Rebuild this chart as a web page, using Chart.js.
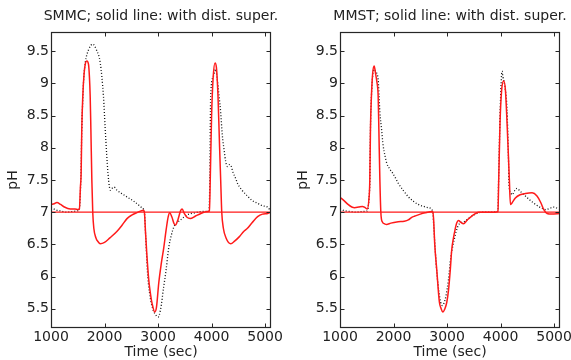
<!DOCTYPE html>
<html><head><meta charset="utf-8">
<script src="https://cdn.jsdelivr.net/npm/chart.js@4"></script>
<style>
html,body{margin:0;padding:0;background:#fff;overflow:hidden;width:571px;height:360px;position:relative}
.box{position:absolute;top:0;height:360px}
#b1{left:0;width:322px}
#b2{left:285px;width:330px}
</style></head><body>
<div class="box" id="b1"><canvas id="c1"></canvas></div>
<div class="box" id="b2"><canvas id="c2"></canvas></div>
<script>
// ---- data ----
const xTicks = [1000, 2000, 3000, 4000, 5000];
const yTicks = [5.5, 6, 6.5, 7, 7.5, 8, 8.5, 9, 9.5];
const xRange = [1000, 5110];
const yRange = [5.2, 9.8];
const titles = ['SMMC; solid line: with dist. super.', 'MMST; solid line: with dist. super.'];
const setT = [1000, 5110];
const setPH = [7, 7];

// SMMC, with disturbance (solid red)
const smmcRedT = [1000,1060,1110,1180,1250,1360,1450,1500,1530,1550,1563,1575,1594,1620,1645,1670,1700,1718,1732,1745,1763,1780,1800,1840,1880,1920,2000,2100,2230,2330,2420,2500,2600,2730,2745,2765,2790,2826,2860,2889,2938,2970,3013,3060,3107,3150,3190,3220,3260,3300,3326,3370,3420,3450,3490,3540,3600,3700,3800,3920,3960,3975,4000,4030,4064,4090,4120,4150,4170,4190,4220,4270,4358,4430,4520,4600,4670,4760,4860,4950,5050,5110];
const smmcRedPH = [7.12,7.13,7.15,7.12,7.08,7.05,7.05,7.04,7.05,7.4,7.6,8.29,8.8,9.17,9.32,9.35,9.3,9.1,8.8,8.29,7.5,7.0,6.75,6.6,6.54,6.51,6.53,6.6,6.7,6.8,6.9,6.95,6.99,7.03,7.0,6.7,6.35,5.95,5.72,5.58,5.45,5.52,5.9,6.2,6.45,6.72,6.93,6.99,6.92,6.82,6.8,6.88,7.02,7.05,6.98,6.92,6.9,6.94,6.98,7.01,7.02,7.5,8.5,9.1,9.32,9.25,8.8,8.0,7.5,7.0,6.75,6.6,6.51,6.55,6.62,6.7,6.75,6.84,6.93,6.97,6.98,7.0];

// SMMC, without disturbance (dotted black)
const smmcBlkT = [1000,1080,1170,1300,1400,1500,1530,1560,1575,1594,1610,1640,1700,1780,1850,1920,1980,2013,2040,2065,2090,2110,2140,2180,2220,2357,2545,2680,2732,2745,2770,2800,2840,2900,2960,3000,3045,3107,3150,3200,3250,3300,3360,3420,3545,3700,3795,3950,3965,3983,4030,4077,4100,4140,4170,4200,4233,4265,4295,4330,4358,4400,4452,4483,4560,4670,4760,4858,4950,5045,5110];
const smmcBlkPH = [7.07,7.04,7.02,7.0,7.01,7.02,7.05,7.6,8.29,8.75,9.06,9.32,9.52,9.61,9.52,9.32,8.8,8.29,7.9,7.6,7.4,7.34,7.37,7.39,7.35,7.27,7.17,7.08,7.04,7.0,6.6,6.1,5.75,5.5,5.4,5.37,5.48,5.85,6.1,6.45,6.65,6.78,6.84,6.88,6.96,6.99,7.01,7.02,7.4,8.8,9.1,9.22,9.1,8.8,8.55,8.2,7.97,7.78,7.71,7.74,7.73,7.62,7.52,7.45,7.35,7.25,7.18,7.14,7.1,7.08,7.01];

// MMST, with disturbance (solid red)
const mmstRedT = [1000,1075,1150,1220,1275,1350,1420,1470,1510,1540,1557,1569,1587,1610,1638,1665,1690,1713,1726,1745,1763,1790,1830,1870,1950,2088,2200,2276,2340,2400,2500,2590,2733,2748,2770,2808,2857,2890,2920,2960,2995,3026,3060,3088,3120,3150,3180,3213,3260,3306,3380,3463,3588,3900,3951,3965,3990,4020,4058,4090,4120,4145,4164,4184,4210,4276,4364,4464,4589,4680,4750,4807,4870,4950,5110];
const mmstRedPH = [7.23,7.18,7.12,7.08,7.07,7.08,7.09,7.07,7.05,7.2,7.5,8.29,8.8,9.15,9.27,9.15,9.02,8.8,8.29,7.5,7.0,6.85,6.82,6.81,6.83,6.85,6.86,6.88,6.92,6.94,6.97,6.99,7.01,6.9,6.5,6.1,5.6,5.5,5.45,5.5,5.6,5.78,6.1,6.42,6.6,6.73,6.83,6.87,6.84,6.82,6.88,6.94,7.0,7.0,7.02,7.5,8.4,8.9,9.04,8.9,8.4,7.9,7.5,7.12,7.14,7.22,7.27,7.29,7.3,7.25,7.15,7.04,6.98,6.97,6.98];

// MMST, without disturbance (dotted black)
const mmstBlkT = [1000,1100,1200,1300,1400,1510,1540,1557,1569,1587,1610,1638,1670,1713,1730,1745,1775,1807,1840,1870,1930,1990,2056,2088,2180,2276,2370,2463,2560,2650,2733,2750,2780,2810,2850,2880,2910,2940,2980,3026,3070,3120,3170,3213,3270,3338,3400,3463,3588,3700,3950,3963,3990,4010,4026,4045,4090,4120,4145,4160,4190,4214,4260,4308,4360,4464,4560,4652,4750,4840,4920,4995,5060,5110];
const mmstBlkPH = [7.05,7.02,7.01,7.0,7.01,7.02,7.2,7.5,8.3,8.8,9.12,9.22,9.18,9.06,8.8,8.55,8.3,8.03,7.88,7.77,7.67,7.6,7.5,7.45,7.34,7.24,7.17,7.12,7.09,7.07,7.01,6.8,6.4,6.05,5.75,5.6,5.55,5.58,5.7,5.95,6.3,6.52,6.7,6.8,6.84,6.86,6.9,6.94,6.99,7.0,7.01,7.5,8.5,9.0,9.19,9.1,8.9,8.6,7.9,7.4,7.3,7.27,7.33,7.37,7.33,7.25,7.18,7.12,7.07,7.04,7.06,7.08,7.06,7.05];

// ---- chart building ----
const FONT = '"DejaVu Sans", "Liberation Sans", Arial, sans-serif';
const TXT = '#222';
const pts = (t, v) => t.map((x, i) => ({x: x, y: v[i]}));

const boxPlugin = {
  id: 'matlabBox',
  afterDatasetsDraw(chart) {
    const {ctx, chartArea: a, scales: {x, y}} = chart;
    const L = Math.round(a.left) + 0.5, R = Math.round(a.right) - 0.5;
    const T = Math.round(a.top) + 0.5, B = Math.round(a.bottom) - 0.5;
    ctx.save();
    ctx.strokeStyle = '#262626';
    ctx.lineWidth = 1;
    ctx.beginPath();
    x.ticks.forEach(t => {
      const p = Math.round(x.getPixelForValue(t.value)) + 0.5;
      ctx.moveTo(p, B); ctx.lineTo(p, B - 4);
      ctx.moveTo(p, T); ctx.lineTo(p, T + 4);
    });
    y.ticks.forEach(t => {
      const p = Math.round(y.getPixelForValue(t.value)) + 0.5;
      ctx.moveTo(L, p); ctx.lineTo(L + 4, p);
      ctx.moveTo(R, p); ctx.lineTo(R - 4, p);
    });
    ctx.stroke();
    ctx.lineWidth = 1.2;
    ctx.strokeRect(L, T, R - L, B - T);
    ctx.restore();
  }
};

function makeChart(id, title, redT, redPH, blkT, blkPH, yWidth, yTitlePad, rightGap) {
  return new Chart(document.getElementById(id), {
    type: 'line',
    data: {
      datasets: [
        {data: pts(redT, redPH), borderColor: '#ff1a1a', borderWidth: 1.5, pointRadius: 0, cubicInterpolationMode: 'monotone'},
        {data: pts(setT, setPH), borderColor: '#ff1a1a', borderWidth: 1.3, pointRadius: 0},
        {data: pts(blkT, blkPH), borderColor: '#111', borderWidth: 1.3, borderDash: [1, 2], pointRadius: 0, cubicInterpolationMode: 'monotone'}
      ]
    },
    options: {
      responsive: true, maintainAspectRatio: false, animation: false, devicePixelRatio: 1,
      layout: {padding: 0},
      plugins: {
        legend: {display: false}, tooltip: {enabled: false},
        title: {display: true, text: title, fullSize: true, color: TXT,
          font: {family: FONT, size: 14, weight: 'normal', lineHeight: 1.2},
          padding: {top: 7.6, bottom: 7.6}}
      },
      scales: {
        x: {
          type: 'linear', min: xRange[0], max: xRange[1],
          grid: {display: false, drawTicks: false}, border: {display: false},
          afterBuildTicks: s => { s.ticks = xTicks.map(v => ({value: v})); },
          afterFit: s => { s.height = 32; s.paddingLeft = 0; s.paddingRight = 0; },
          ticks: {color: TXT, font: {family: FONT, size: 14}, padding: 0.5, maxRotation: 0, autoSkip: false, callback: v => String(v)},
          title: {display: true, text: 'Time (sec)', color: TXT, font: {family: FONT, size: 14, lineHeight: 1.2}, padding: {top: 0, bottom: -0.9}}
        },
        y: {
          type: 'linear', min: yRange[0], max: yRange[1],
          grid: {display: false, drawTicks: false}, border: {display: false},
          afterBuildTicks: s => { s.ticks = yTicks.map(v => ({value: v})); },
          afterFit: s => { s.width = yWidth; s.paddingTop = 0; s.paddingBottom = 0; },
          ticks: {color: TXT, font: {family: FONT, size: 14}, padding: 2, autoSkip: false, callback: v => String(v)},
          title: {display: true, text: 'pH', color: TXT, font: {family: FONT, size: 14, lineHeight: 1.2}, padding: {top: yTitlePad, bottom: 0}}
        },
        yGap: {
          type: 'linear', position: 'right', display: true,
          grid: {display: false, drawTicks: false}, border: {display: false},
          ticks: {display: false},
          afterFit: s => { s.width = rightGap; s.paddingTop = 0; s.paddingBottom = 0; }
        }
      }
    },
    plugins: [boxPlugin]
  });
}

// canvas widths 322 / 330 centre each title over its plot box
makeChart('c1', titles[0], smmcRedT, smmcRedPH, smmcBlkT, smmcBlkPH, 51, 5, 51);
makeChart('c2', titles[1], mmstRedT, mmstRedPH, mmstBlkT, mmstBlkPH, 55, 9.5, 55);
</script>
</body></html>
